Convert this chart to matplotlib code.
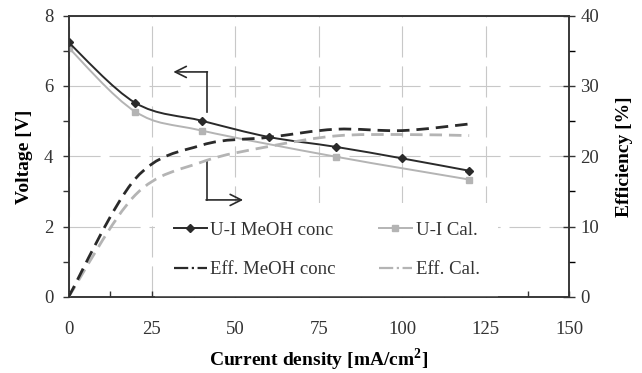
import numpy as np
import matplotlib
matplotlib.use("Agg")
import matplotlib.pyplot as plt
from matplotlib.path import Path
from matplotlib.patches import PathPatch
from matplotlib.lines import Line2D
from matplotlib.ticker import MultipleLocator

plt.rcParams['font.family'] = ['Liberation Serif', 'DejaVu Serif']
plt.rcParams['mathtext.fontset'] = 'custom'
plt.rcParams['mathtext.rm'] = 'Liberation Serif'
plt.rcParams['mathtext.bf'] = 'Liberation Serif:bold'

# data
current = [0, 20, 40, 60, 80, 100, 120]
ui_meoh = [7.24, 5.52, 5.01, 4.55, 4.27, 3.94, 3.59]
cal_current = [0, 20, 40, 80, 120]
ui_cal = [7.09, 5.27, 4.73, 3.99, 3.34]
eff_meoh = [0, 16.8, 21.6, 22.7, 23.85, 23.66, 24.6]
eff_cal = [0, 14.5, 19.2, 21.4, 22.9, 23.1, 22.95]

legend_labels = ['U-I MeOH conc', 'U-I Cal.', 'Eff. MeOH conc', 'Eff. Cal.']

BLACK = '#2a2a2a'
GREY = '#b4b4b4'


def smooth_path(xs, ys):
    # Bezier path through the points (like a spreadsheet "smoothed line")
    pts = np.column_stack([xs, ys]).astype(float)
    verts = [pts[0]]
    codes = [Path.MOVETO]
    n = len(pts)
    for i in range(n - 1):
        p0 = pts[max(i - 1, 0)]
        p1 = pts[i]
        p2 = pts[i + 1]
        p3 = pts[min(i + 2, n - 1)]
        verts += [p1 + (p2 - p0) / 6, p2 - (p3 - p1) / 6, p2]
        codes += [Path.CURVE4] * 3
    return Path(verts, codes)


def smooth_line(ax, xs, ys, **kw):
    patch = PathPatch(smooth_path(xs, ys), fill=False, transform=ax.transData, **kw)
    ax.add_patch(patch)
    return patch


fig = plt.figure(figsize=(6.42, 3.73), dpi=100)
ax = fig.add_axes([0.1067, 0.2038, 0.7801, 0.7542])
ax2 = ax.twinx()

# voltage curves
smooth_line(ax, current, ui_meoh, edgecolor=BLACK, lw=1.4, zorder=4)
ax.plot(current, ui_meoh, linestyle='none', marker='D', ms=4.5, color=BLACK, zorder=5)
smooth_line(ax, cal_current, ui_cal, edgecolor=GREY, lw=1.4, zorder=3)
ax.plot(cal_current, ui_cal, linestyle='none', marker='s', ms=5, color=GREY, zorder=3)

# efficiency curves
smooth_line(ax2, current, eff_meoh, edgecolor=BLACK, lw=2.0, linestyle=(0, (4.5, 2.5)), zorder=4)
smooth_line(ax2, current, eff_cal, edgecolor=GREY, lw=2.0, linestyle=(0, (4.5, 2.5)), zorder=3)

ax.set_xlim(0, 150)
ax.set_ylim(0, 8)
ax2.set_ylim(0, 40)
ax.xaxis.set_major_locator(MultipleLocator(25))
ax.xaxis.set_minor_locator(MultipleLocator(12.5))
ax.yaxis.set_major_locator(MultipleLocator(2))
ax.yaxis.set_minor_locator(MultipleLocator(1))
ax2.yaxis.set_major_locator(MultipleLocator(10))
ax2.yaxis.set_minor_locator(MultipleLocator(5))

ax.grid(True, which='major', color='#c8c8c8', lw=0.8, linestyle=(0, (28, 8)))
ax.set_axisbelow(True)

ax.tick_params(axis='x', which='both', direction='in', length=4, width=1, labelsize=13.5,
               pad=17, colors='#333333', top=False)
ax.tick_params(axis='y', which='both', direction='out', length=4, width=1, labelsize=13.5,
               pad=7, colors='#333333')
ax2.tick_params(axis='y', which='major', direction='inout', length=8, width=1, labelsize=13.5,
                pad=4, colors='#333333')
ax2.tick_params(axis='y', which='minor', direction='out', length=4, width=1)
for a in (ax, ax2):
    for s in a.spines.values():
        s.set_color('#333333')
        s.set_linewidth(1.1)

ax.set_xlabel('Current density [mA/cm$^\\mathbf{2}$]', fontsize=14, fontweight='bold', labelpad=6)
ax.set_ylabel('Voltage [V]', fontsize=14, fontweight='bold', labelpad=8)
ax2.set_ylabel('Efficiency [%]', fontsize=14, fontweight='bold', labelpad=12)

# arrows pointing to the axis each set of curves belongs to
ax.plot([41.4, 41.4], [5.26, 6.40], color=BLACK, lw=1.2, zorder=6)
ax.annotate('', xy=(31.4, 6.40), xytext=(41.6, 6.40),
            arrowprops=dict(arrowstyle='->', color=BLACK, lw=1.2, mutation_scale=20,
                            shrinkA=0, shrinkB=0), zorder=6)
ax.plot([41.4, 41.4], [3.89, 2.76], color=BLACK, lw=1.2, zorder=6)
ax.annotate('', xy=(52.3, 2.76), xytext=(41.2, 2.76),
            arrowprops=dict(arrowstyle='->', color=BLACK, lw=1.2, mutation_scale=20,
                            shrinkA=0, shrinkB=0), zorder=6)

# legend fills column by column, so order the entries to read row by row
handles = [
    Line2D([], [], color=BLACK, lw=1.4, marker='D', ms=4.5),
    Line2D([], [], color=BLACK, lw=1.6, linestyle='-.'),
    Line2D([], [], color=GREY, lw=1.4, marker='s', ms=5),
    Line2D([], [], color=GREY, lw=1.6, linestyle='-.'),
]
labels = [legend_labels[0], legend_labels[2], legend_labels[1], legend_labels[3]]
leg = ax.legend(handles, labels, ncol=2, loc='lower left', bbox_to_anchor=(0.173, 0.0),
                fontsize=13.5, frameon=True, fancybox=False, framealpha=1, edgecolor='none',
                facecolor='white', handlelength=1.75, handletextpad=0.2, columnspacing=2.3,
                labelspacing=1.2, borderpad=1.0, borderaxespad=0)
for t in leg.get_texts():
    t.set_color('#333333')
leg.set_zorder(2.5)

fig.savefig('out.png', dpi=100)
